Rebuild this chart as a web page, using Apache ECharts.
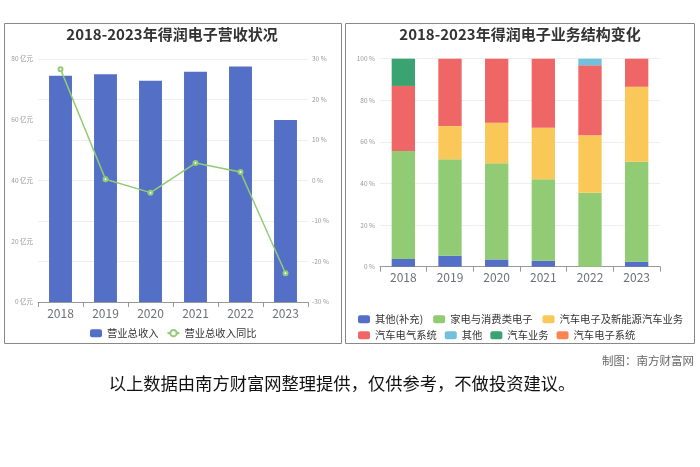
<!DOCTYPE html>
<html>
<head>
<meta charset="utf-8">
<style>
html,body{margin:0;padding:0;background:#fff;}
#c{width:700px;height:467px;}
</style>
<script src="https://cdn.jsdelivr.net/npm/echarts@6/dist/echarts.min.js"></script>
</head>
<body>
<div id="c"></div>
<script>
var years = ['2018', '2019', '2020', '2021', '2022', '2023'];
var revenue = [74.5, 75.0, 72.8, 75.8, 77.5, 59.9];
var revenueYoY = [27.5, 0.3, -3.0, 4.3, 2.1, -22.9];

var segOtherSupp = [3.7, 5.3, 3.5, 2.9, 0, 2.4];
var segAppliance = [51.9, 46.3, 46.2, 39.1, 35.6, 48.1];
var segAutoNewEnergy = [0, 16.0, 19.5, 24.8, 27.6, 36.0];
var segAutoElectric = [31.3, 32.4, 30.8, 33.2, 33.6, 13.5];
var segOther = [0, 0, 0, 0, 3.2, 0];
var segAutoBiz = [13.1, 0, 0, 0, 0, 0];
var segAutoSystem = [0, 0, 0, 0, 0, 0];

var segNames = ['其他(补充)', '家电与消费类电子', '汽车电子及新能源汽车业务', '汽车电气系统', '其他', '汽车业务', '汽车电子系统'];
var segData = [segOtherSupp, segAppliance, segAutoNewEnergy, segAutoElectric, segOther, segAutoBiz, segAutoSystem];
var segColors = ['#5470c6', '#91cc75', '#fac858', '#ee6666', '#73c0de', '#3ba272', '#fc8452'];

var FONT = '"Noto Sans CJK SC", "Noto Sans", sans-serif';
var chart = echarts.init(document.getElementById('c'));

var stackSeries = segNames.map(function (n, i) {
  return {
    name: n, type: 'bar', stack: 'seg', xAxisIndex: 1, yAxisIndex: 2,
    barWidth: '50%', itemStyle: { color: segColors[i] }, data: segData[i]
  };
});

var smallLabel = { fontSize: 6.5, color: '#999', fontFamily: FONT };
var legendText = { fontSize: 10.3, color: '#333' };

var option = {
  backgroundColor: '#fff',
  textStyle: { fontFamily: FONT },
  animation: false,
  graphic: [
    { type: 'rect', shape: { x: 4.5, y: 23.5, width: 337, height: 320 }, style: { fill: 'none', stroke: '#888', lineWidth: 1 } },
    { type: 'rect', shape: { x: 345.5, y: 23.5, width: 349, height: 320 }, style: { fill: 'none', stroke: '#888', lineWidth: 1 } },
    { type: 'text', style: { text: '2018-2023年得润电子营收状况', x: 172, y: 34, textAlign: 'center', textVerticalAlign: 'middle', font: 'bold 15px ' + FONT, fill: '#333' } },
    { type: 'text', style: { text: '2018-2023年得润电子业务结构变化', x: 520, y: 34, textAlign: 'center', textVerticalAlign: 'middle', font: 'bold 15px ' + FONT, fill: '#333' } },
    { type: 'text', style: { text: '制图：南方财富网', x: 694, y: 361, textAlign: 'right', textVerticalAlign: 'middle', font: '11.5px ' + FONT, fill: '#666' } },
    { type: 'text', style: { text: '以上数据由南方财富网整理提供，仅供参考，不做投资建议。', x: 342, y: 383, textAlign: 'center', textVerticalAlign: 'middle', font: '17.3px ' + FONT, fill: '#111' } }
  ],
  legend: [
    { data: ['营业总收入', '营业总收入同比'], left: 90, top: 328, width: 240, padding: 0, itemWidth: 12, itemHeight: 8, itemGap: 8, textStyle: legendText },
    { data: segNames.slice(0, 3), left: 358, top: 314, width: 340, padding: 0, icon: 'roundRect', itemWidth: 12, itemHeight: 8, itemGap: 10, textStyle: legendText },
    { data: segNames.slice(3), left: 358, top: 330, width: 340, padding: 0, icon: 'roundRect', itemWidth: 12, itemHeight: 8, itemGap: 8, textStyle: legendText }
  ],
  grid: [
    { left: 38, right: 392, top: 59, bottom: 165 },
    { left: 380, right: 40, top: 58.7, bottom: 200.3 }
  ],
  xAxis: [
    { type: 'category', gridIndex: 0, data: years, axisLabel: { fontSize: 12, color: '#6E7079', margin: 5 }, axisLine: { lineStyle: { color: '#999' } }, axisTick: { show: true, lineStyle: { color: '#999' } } },
    { type: 'category', gridIndex: 1, data: years, axisLabel: { fontSize: 12, color: '#6E7079', margin: 5 }, axisLine: { lineStyle: { color: '#999' } }, axisTick: { show: true, lineStyle: { color: '#999' } } }
  ],
  yAxis: [
    { type: 'value', gridIndex: 0, min: 0, max: 80, interval: 20, axisLabel: Object.assign({ formatter: '{value} 亿元', margin: 5 }, smallLabel), splitLine: { show: false }, axisLine: { show: false }, axisTick: { show: false } },
    { type: 'value', gridIndex: 0, min: -30, max: 30, interval: 10, position: 'right', axisLabel: Object.assign({ formatter: '{value} %', margin: 4 }, smallLabel), splitLine: { show: true, lineStyle: { color: '#eee' } }, axisLine: { show: false }, axisTick: { show: false } },
    { type: 'value', gridIndex: 1, min: 0, max: 100, interval: 20, axisLabel: Object.assign({ formatter: '{value} %', margin: 5 }, smallLabel), splitLine: { show: true, lineStyle: { color: '#eee' } }, axisLine: { show: false }, axisTick: { show: false } }
  ],
  series: [
    { name: '营业总收入', type: 'bar', xAxisIndex: 0, yAxisIndex: 0, barWidth: '51%', itemStyle: { color: '#5470c6' }, data: revenue },
    { name: '营业总收入同比', type: 'line', xAxisIndex: 0, yAxisIndex: 1, symbol: 'emptyCircle', symbolSize: 4, itemStyle: { color: '#91cc75' }, lineStyle: { color: '#91cc75', width: 1.5 }, data: revenueYoY }
  ].concat(stackSeries)
};
chart.setOption(option);
</script>
</body>
</html>
